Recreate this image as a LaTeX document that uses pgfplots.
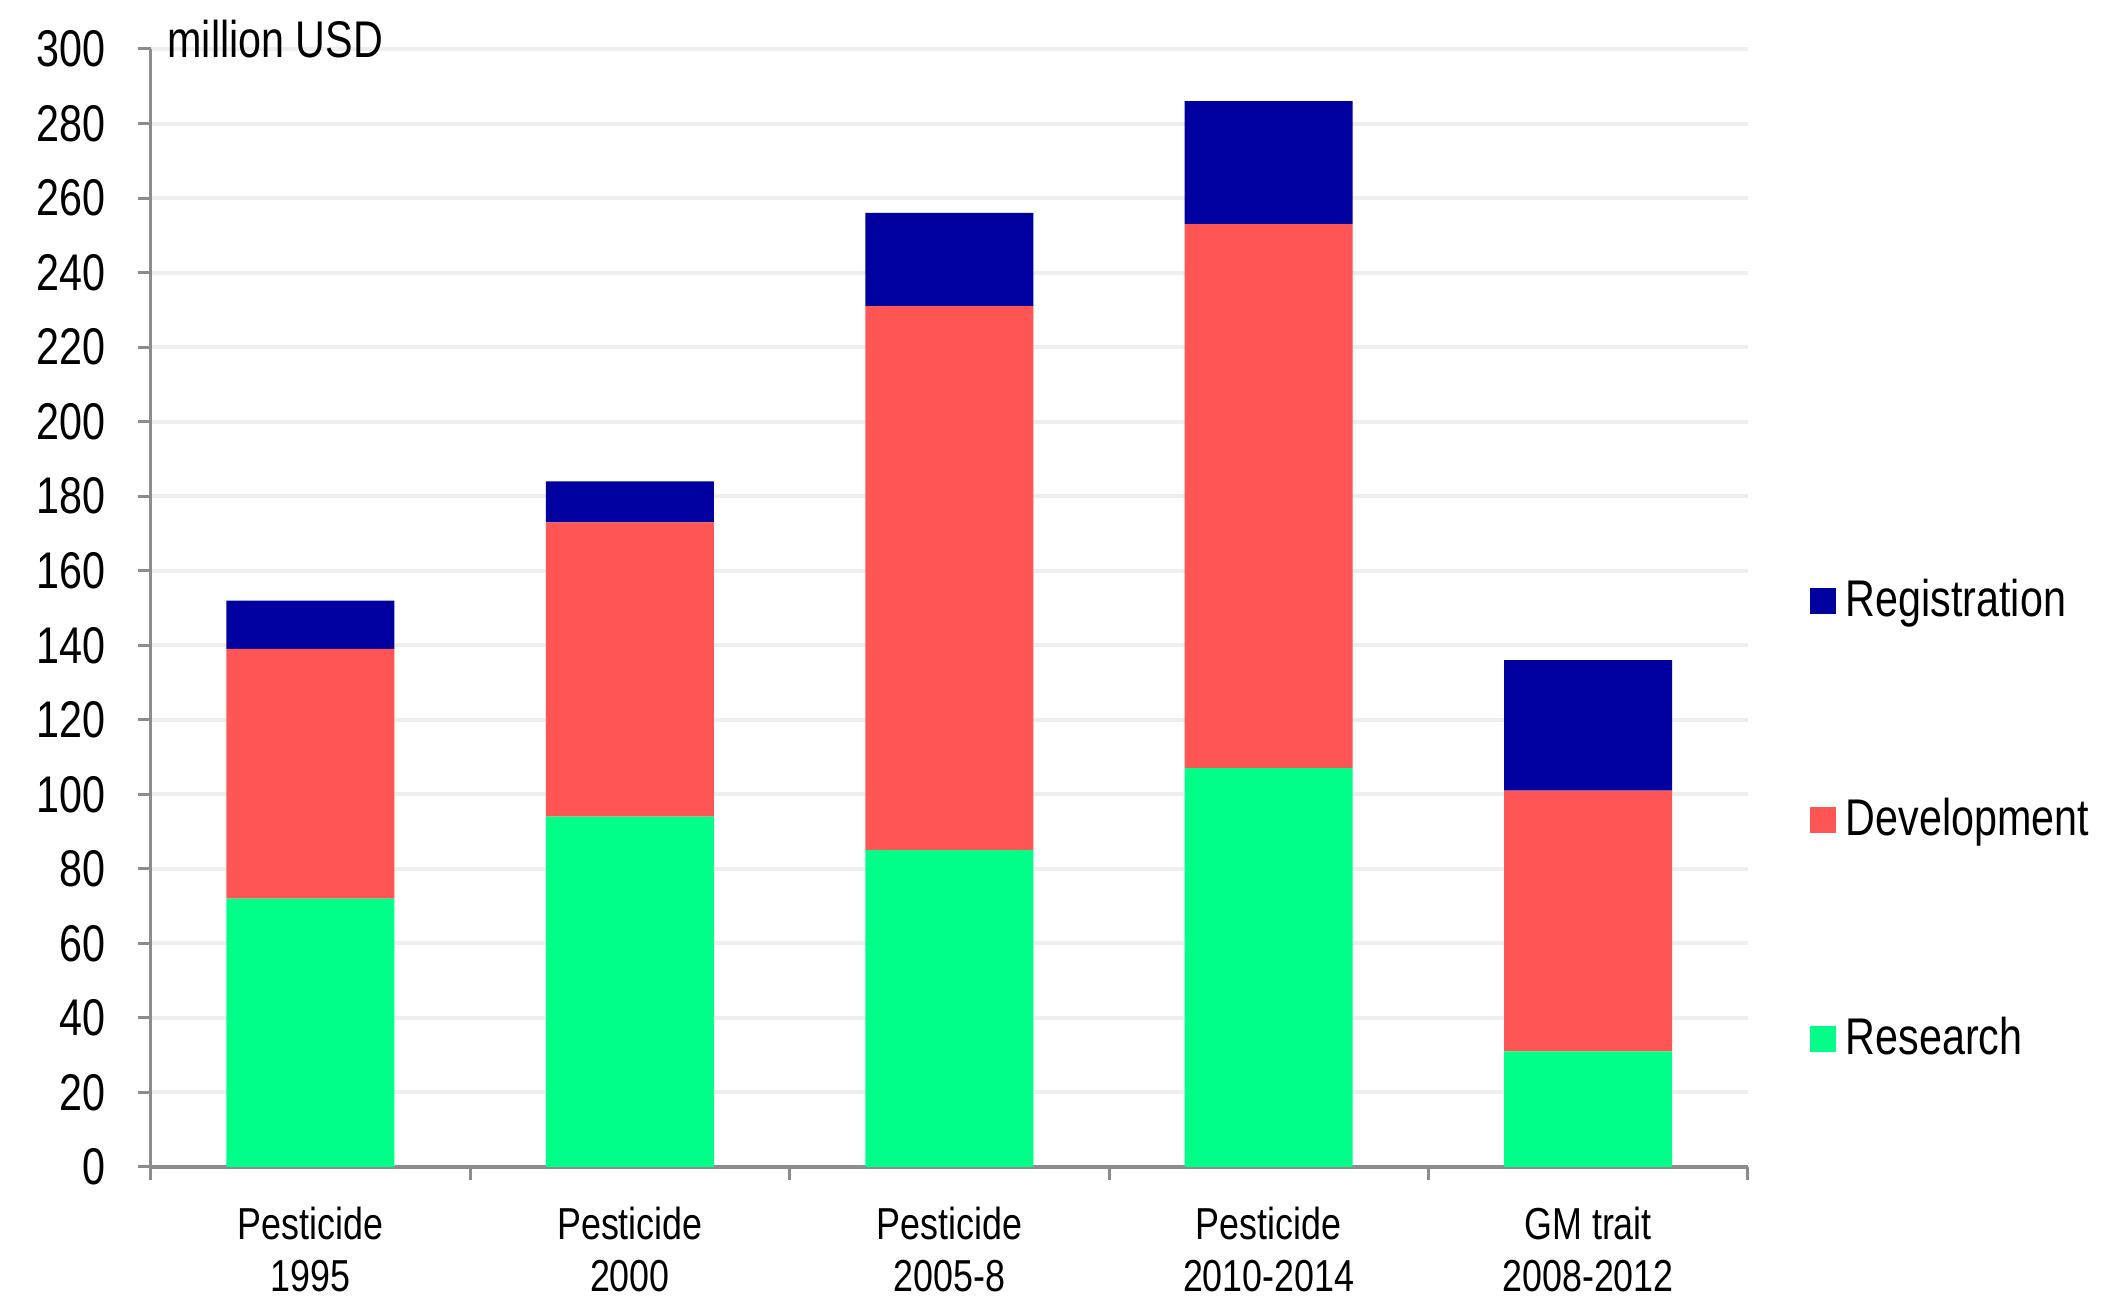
\documentclass[border=0pt]{standalone}
\usepackage{pgfplots}
\pgfplotsset{compat=1.18}
\usepackage{fontspec}
\setmainfont{Liberation Sans}[FakeStretch=0.8]
\definecolor{res}{RGB}{0,255,136}
\definecolor{dev}{RGB}{255,85,85}
\definecolor{reg}{RGB}{0,0,160}
\definecolor{axgray}{RGB}{140,140,140}
\definecolor{gridc}{RGB}{238,238,238}
\begin{document}
\begin{tikzpicture}
\path[use as bounding box] (-37.7pt,-36.25pt) rectangle (488.55pt,291.75pt);
\begin{axis}[
  at={(0,0)}, anchor=south west,
  scale only axis, width=399.25pt, height=279.5pt,
  clip=false,
  ybar stacked, bar width=42pt,
  xmin=-0.5, xmax=4.5, ymin=0, ymax=300,
  xtick={0,1,2,3,4},
  xticklabels={{Pesticide\\1995},{Pesticide\\2000},{Pesticide\\2005-8},{Pesticide\\2010-2014},{GM trait\\2008-2012}},
  minor xtick={-0.5,0.5,1.5,2.5,3.5,4.5},
  ytick={0,20,...,300},
  axis x line*=bottom, axis y line*=left,
  axis line style={-},
  tick align=outside,
  major tick length=3.25pt, minor tick length=3.25pt,
  x axis line style={draw=axgray, line width=1.1pt},
  y axis line style={draw=axgray, line width=0.75pt},
  ymajorgrids, grid style={draw=gridc, line width=1pt},
  major x tick style={draw=none},
  minor x tick style={draw=axgray, line width=0.75pt},
  ytick style={draw=axgray, line width=0.75pt},
  /pgf/number format/assume math mode=true,
  yticklabel style={font=\fontsize{12.9}{12.9}\selectfont, inner sep=0pt, xshift=-8pt, text=black},
  xticklabel style={font=\fontsize{11.2}{13}\selectfont, align=center, inner sep=0pt, yshift=-6.5pt, text=black},
  legend style={draw=none, fill=none, at={(1,0.5283)}, anchor=north west, xshift=15.5pt,
    inner sep=0pt, outer sep=0pt, row sep=41.8pt, column sep=2.5pt,
    nodes={inner sep=0pt, text height=10pt, text depth=3pt},
    font=\fontsize{12.9}{12.9}\selectfont},
  legend cell align=left,
  reverse legend,
  legend image code/.code={\fill[#1] (0pt,-2.8pt) rectangle (6.5pt,3.7pt);},
]
\addplot[fill=res, draw=none] coordinates {(0,72) (1,94) (2,85) (3,107) (4,31)};
\addplot[fill=dev, draw=none] coordinates {(0,67) (1,79) (2,146) (3,146) (4,70)};
\addplot[fill=reg, draw=none] coordinates {(0,13) (1,11) (2,25) (3,33) (4,35)};
\legend{Research, Development, Registration}
\node[anchor=base west, inner sep=0pt, font=\fontsize{12.9}{12.9}\selectfont, xshift=4pt, yshift=-2.25pt] at (rel axis cs:0,1) {million USD};
\end{axis}
\end{tikzpicture}
\end{document}
